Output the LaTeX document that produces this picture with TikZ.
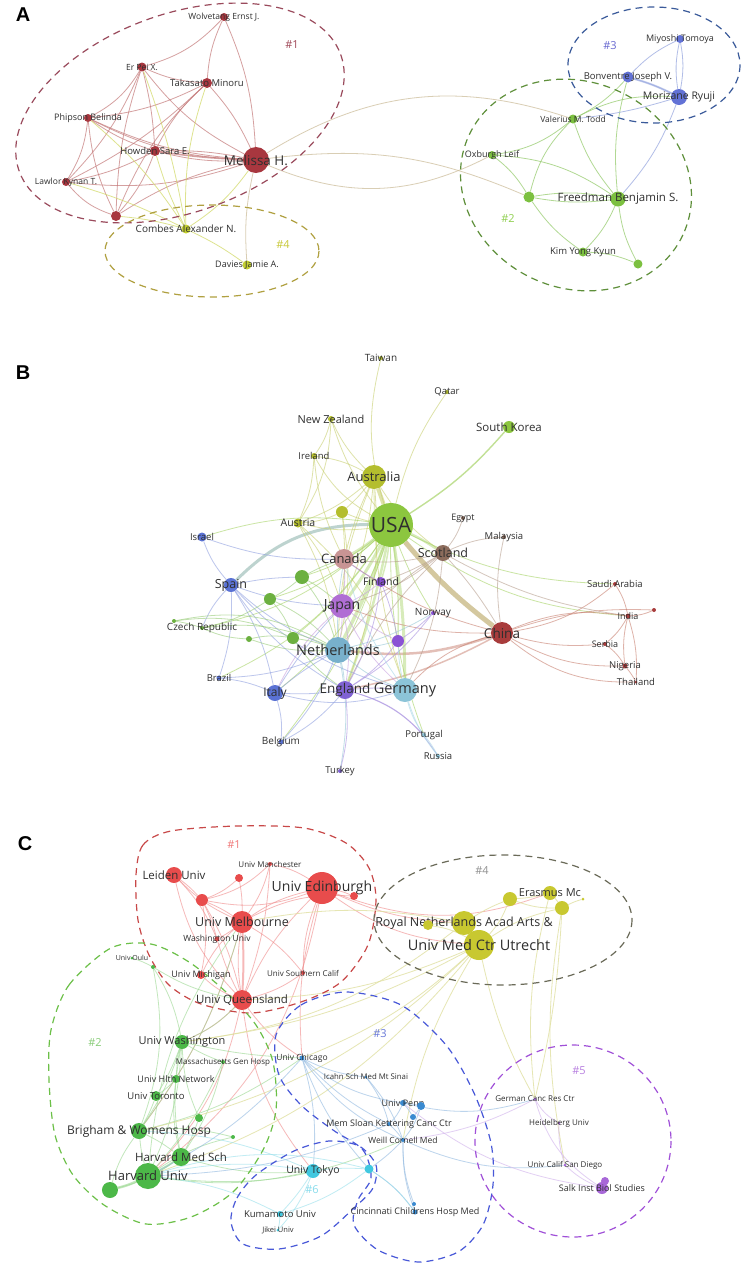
\documentclass[tikz,border=0pt]{standalone}
\usepackage{fontspec}
\setmainfont{Open Sans}
\newfontfamily\panelfont{Liberation Sans}
\pgfdeclarelayer{background}
\pgfsetlayers{background,main}

% node colours
\definecolor{txt}{HTML}{2F2F2F}
\definecolor{aRed}{HTML}{A8373F}
\definecolor{aGrn}{HTML}{7CC040}
\definecolor{aBlu}{HTML}{6272D6}
\definecolor{aYel}{HTML}{C4D030}
\definecolor{bUSA}{HTML}{8CC63F}
\definecolor{bAus}{HTML}{B4BE2E}
\definecolor{bCan}{HTML}{C89494}
\definecolor{bSco}{HTML}{8C6C5C}
\definecolor{bChi}{HTML}{A83C3C}
\definecolor{bJap}{HTML}{B06ED4}
\definecolor{bNet}{HTML}{78B0CC}
\definecolor{bEng}{HTML}{8062D4}
\definecolor{bGer}{HTML}{8CC4D8}
\definecolor{bSpa}{HTML}{5A72D4}
\definecolor{bFin}{HTML}{8A52D4}
\definecolor{bGrn}{HTML}{6CB040}
\definecolor{cRed}{HTML}{E84C4C}
\definecolor{cGrn}{HTML}{4CB848}
\definecolor{cYel}{HTML}{C8C830}
\definecolor{cBlu}{HTML}{3A8AD0}
\definecolor{cCya}{HTML}{40C8E0}
\definecolor{cPur}{HTML}{A868D8}
% link colours
\definecolor{eAR}{HTML}{C47878}
\definecolor{eAG}{HTML}{98CC70}
\definecolor{eAB}{HTML}{98A8E0}
\definecolor{eAY}{HTML}{D0D860}
\definecolor{eAT}{HTML}{CDBE9C}
\definecolor{eUSA}{HTML}{A8D468}
\definecolor{eAus}{HTML}{C8D070}
\definecolor{eSco}{HTML}{B8A090}
\definecolor{eChi}{HTML}{C88070}
\definecolor{eSpa}{HTML}{90A0E0}
\definecolor{eJap}{HTML}{C8A0E0}
\definecolor{eNet}{HTML}{98C8D8}
\definecolor{eEng}{HTML}{A890E0}
\definecolor{eGer}{HTML}{A8D8E8}
\definecolor{eGrn}{HTML}{98CC78}
\definecolor{eUC}{HTML}{B8A460}
\definecolor{eTeal}{HTML}{88B0A8}
\definecolor{eRed}{HTML}{F08A8A}
\definecolor{eCG}{HTML}{9AD890}
\definecolor{eYel}{HTML}{E0E0A0}
\definecolor{eBlu}{HTML}{90B8E0}
\definecolor{eCya}{HTML}{98E0EC}
\definecolor{ePur}{HTML}{D0B0EC}
% hull and tag colours
\definecolor{hA1}{HTML}{9A4A5C}
\definecolor{hA2}{HTML}{5E8F3A}
\definecolor{hA3}{HTML}{3A5A9A}
\definecolor{hA4}{HTML}{B0A040}
\definecolor{hC1}{HTML}{C84848}
\definecolor{hC2}{HTML}{6CC048}
\definecolor{hC3}{HTML}{4858D8}
\definecolor{hC4}{HTML}{6A6A58}
\definecolor{hC5}{HTML}{A050D8}
\definecolor{tA1}{HTML}{A04858}
\definecolor{tA2}{HTML}{90D050}
\definecolor{tA3}{HTML}{6868D0}
\definecolor{tA4}{HTML}{C8C838}
\definecolor{tC1}{HTML}{F07878}
\definecolor{tC2}{HTML}{88CC78}
\definecolor{tC3}{HTML}{6878D8}
\definecolor{tC4}{HTML}{909090}
\definecolor{tC5}{HTML}{B880E0}
\definecolor{tC6}{HTML}{88DCEC}

\begin{document}
\begin{tikzpicture}[x=1pt, y=-1pt,
	vdot/.style={circle, inner sep=0pt, minimum size=#1},
	lbl/.style={inner sep=0pt, text=txt, font=\fontsize{#1}{#1}\selectfont},
	tag/.style={inner sep=0pt, text=#1, font=\fontsize{11}{11}\selectfont},
	hull/.style={draw=#1, dash pattern=on 7pt off 5pt, line width=1.2pt},
	lnk/.style={draw=#1, line width=0.8pt, opacity=0.6},
	panel/.style={inner sep=0pt, font=\panelfont\bfseries\fontsize{20}{20}\selectfont}]

	\begin{pgfonlayer}{background}
		\path[fill=white, use as bounding box] (0,0) rectangle (731,1272);
	\end{pgfonlayer}

	% ---------------- A ----------------
	\node[panel] (pA) at (12,15) {A};

	\draw[hull=hA1, rotate around={20:(169,113)}] (169,113) ellipse [x radius=171, y radius=99];
	\draw[hull=hA4] (201,251) ellipse [x radius=107, y radius=46];
	\draw[hull=hA2, rotate around={-25:(565,185)}] (565,185) ellipse [x radius=118, y radius=103];
	\draw[hull=hA3] (643,65) ellipse [x radius=86, y radius=58];

	\node[tag=tA1] (tagA1) at (281,45) {\#1};
	\node[tag=tA2] (tagA2) at (497,219) {\#2};
	\node[tag=tA3] (tagA3) at (599,46) {\#3};
	\node[tag=tA4] (tagA4) at (272,245) {\#4};

	\foreach \id/\x/\y/\d/\fs/\txt in {
		wolv/213/17/8/8.5/Wolvetang Ernst J.,
		erpei/131/67/9/8.5/Er Pei X.,
		taka/196/83/10/9.5/Takasato Minoru,
		phip/77/118/8/9/Phipson Belinda,
		howd/144/151/10/9.5/Howden Sara E.,
		meli/245/160/26/13.5/Melissa H.,
		lawl/55/182/8/8.5/Lawlor Kynan T.}
	{
		\node[vdot=\d, fill=aRed] (\id) at (\x,\y) {};
		\node[lbl=\fs] (\id-t) at (\id) {\txt};
	}
	\node[vdot=10, fill=aRed] (aRedx) at (105,216) {};

	\foreach \id/\x/\y/\d/\fs/\txt in {
		comb/175/229/9/10/Combes Alexander N.,
		davi/236/265/9/9/Davies Jamie A.}
	{
		\node[vdot=\d, fill=aYel] (\id) at (\x,\y) {};
		\node[lbl=\fs] (\id-t) at (\id) {\txt};
	}

	\foreach \id/\x/\y/\d/\fs/\txt in {
		valer/562/119/9/8.5/Valerius M. Todd,
		oxb/481/155/8/9/Oxburgh Leif,
		freed/607/199/15/11.5/Freedman Benjamin S.,
		kim/572/252/9/9.5/Kim Yong Kyun}
	{
		\node[vdot=\d, fill=aGrn] (\id) at (\x,\y) {};
		\node[lbl=\fs] (\id-t) at (\id) {\txt};
	}
	\node[vdot=11, fill=aGrn] (aGrnx) at (518,197) {};
	\node[vdot=9, fill=aGrn] (aGrny) at (627,264) {};

	\foreach \id/\x/\y/\d/\fs/\txt in {
		miy/669/39/8/9/Miyoshi Tomoya,
		bonv/617/77/11/9.5/Bonventre Joseph V.,
		moriz/668/97/16/10.5/Morizane Ryuji}
	{
		\node[vdot=\d, fill=aBlu] (\id) at (\x,\y) {};
		\node[lbl=\fs] (\id-t) at (\id) {\txt};
	}

	\begin{pgfonlayer}{background}
		\foreach \a/\b/\k in {meli/wolv/-10, meli/erpei/12, meli/taka/-8, meli/phip/10,
			meli/howd/8, meli/howd/-6, meli/lawl/12, meli/aRedx/-10, taka/wolv/10,
			erpei/wolv/-15, erpei/phip/15, erpei/howd/5, erpei/lawl/10, erpei/aRedx/-8,
			erpei/taka/-10, taka/phip/10, taka/howd/-10, taka/lawl/8, taka/aRedx/-12,
			phip/howd/-8, phip/lawl/12, phip/aRedx/-10, howd/lawl/8, howd/aRedx/10,
			lawl/aRedx/-15, phip/meli/-12}
			\draw[lnk=eAR, opacity=0.7] (\a) to[bend left=\k] (\b);
		\draw[lnk=eAR, line width=1.6pt, opacity=0.7] (meli) to[bend left=3] (howd);
		\foreach \a/\b/\k in {comb/lawl/-5, comb/phip/-8, comb/howd/5, comb/taka/10,
			comb/erpei/-5, comb/meli/-10, comb/davi/5, comb/aRedx/-5}
			\draw[lnk=eAY, opacity=0.7] (\a) to[bend left=\k] (\b);
		\foreach \a/\b/\k in {davi/meli/8, meli/valer/25, meli/aGrnx/15, meli/oxb/-25}
			\draw[lnk=eAT, opacity=0.75] (\a) to[bend left=\k] (\b);
		\foreach \a/\b/\k in {valer/oxb/15, valer/aGrnx/-15, valer/freed/-10, oxb/aGrnx/10,
			oxb/freed/15, aGrnx/freed/10, aGrnx/freed/-8, aGrnx/kim/-10, freed/kim/10,
			freed/aGrny/-10, kim/aGrny/10, valer/bonv/-10, freed/bonv/10, valer/moriz/15}
			\draw[lnk=eAG, opacity=0.75] (\a) to[bend left=\k] (\b);
		\foreach \a/\b/\k in {miy/bonv/-10, miy/moriz/10, bonv/moriz/5, miy/moriz/-10,
			freed/moriz/-10, valer/moriz/-5}
			\draw[lnk=eAB, opacity=0.75] (\a) to[bend left=\k] (\b);
		\draw[lnk=eAB, line width=2pt] (bonv) to[bend left=5] (moriz);
	\end{pgfonlayer}

	% ---------------- B ----------------
	\node[panel] (pB) at (12,373) {B};

	\foreach \id/\x/\y/\d/\fs/\c/\txt in {
		usa/380/525/44/21/bUSA/USA,
		aus/363/477/24/13/bAus/Australia,
		taiw/370/358/4/10/bAus/Taiwan,
		qatar/436/392/4/9.5/bAus/Qatar,
		nz/320/419/6/11/bAus/New Zealand,
		skor/498/427/12/11.5/bUSA/South Korea,
		irel/303/456/6/9.5/bAus/Ireland,
		austria/287/523/9/10.5/bAus/Austria,
		egypt/452/518/4/9/bSco/Egypt,
		malay/493/537/4/9.5/bSco/Malaysia,
		israel/191/537/9/9.5/bSpa/Israel,
		scot/432/553/16/12.5/bSco/Scotland,
		canada/333/559/20/13/bCan/Canada,
		spain/220/585/14/12.5/bSpa/Spain,
		finl/370/582/10/10.5/bFin/Finland,
		japan/331/606/24/14/bJap/Japan,
		norway/422/613/4/10/bFin/Norway,
		czech/191/628/4/10/bGrn/Czech Republic,
		neth/327/650/26/14.5/bNet/Netherlands,
		china/491/633/22/13.5/bChi/China,
		saudi/604/584/4/9.5/bChi/Saudi Arabia,
		india/617/616/5/9/bChi/India,
		serbia/594/644/4/9/bChi/Serbia,
		nigeria/614/666/5/9.5/bChi/Nigeria,
		thai/625/682/3/9.5/bChi/Thailand,
		brazil/208/678/5/9.5/bSpa/Brazil,
		italy/264/693/16/12/bSpa/Italy,
		engl/334/690/18/13.5/bEng/England,
		germ/394/690/24/14.5/bGer/Germany,
		belg/270/742/5/10/bSpa/Belgium,
		portu/413/735/4/9.5/bGer/Portugal,
		russia/427/756/4/9.5/bGer/Russia,
		turkey/329/771/4/9.5/bEng/Turkey}
	{
		\node[vdot=\d, fill=\c] (\id) at (\x,\y) {};
		\node[lbl=\fs] (\id-t) at (\id) {\txt};
	}
	\foreach \id/\x/\y/\d/\c in {bAusx/331/512/12/bAus, bGrnA/291/577/14/bGrn,
		bGrnB/259/599/12/bGrn, bGrnC/163/621/4/bGrn, bGrnD/238/639/6/bGrn,
		bGrnE/282/638/12/bGrn, bFinx/387/641/12/bFin, bChix/643/610/4/bChi}
		\node[vdot=\d, fill=\c] (\id) at (\x,\y) {};

	\begin{pgfonlayer}{background}
		\draw[lnk=eUC, line width=5pt, opacity=0.6] (usa) to[bend left=-6] (china);
		\draw[lnk=eAus, line width=4pt, opacity=0.6] (usa) to (aus);
		\draw[lnk=eTeal, line width=3pt, opacity=0.55] (spain) to[bend left=22] (usa);
		\draw[lnk=eChi, line width=2.5pt, opacity=0.5] (china) to[bend left=12] (neth);
		\draw[lnk=eChi, line width=1.5pt, opacity=0.5] (china) to[bend left=8] (engl);
		\foreach \b/\w in {canada/3, japan/3, neth/3.5, germ/3, engl/2.5, scot/2.5, finl/1.5, bFinx/1.5}
			\draw[lnk=eUSA, line width=\w pt, opacity=0.45] (usa) to[bend left=4] (\b);
		\draw[lnk=eUSA, line width=1.4pt, opacity=0.7] (usa) to[bend left=-8] (skor);
		\foreach \a/\b/\k in {aus/nz/10, aus/irel/-10, aus/austria/10, aus/bAusx/5, aus/canada/-5,
			aus/japan/8, aus/neth/-10, aus/scot/-10, aus/engl/12, aus/germ/-8, nz/irel/10,
			nz/usa/-10, nz/austria/15, irel/usa/-15, irel/austria/10, irel/canada/-10,
			austria/usa/-10, austria/bAusx/-10, austria/neth/10, austria/japan/10,
			austria/germ/15, bAusx/usa/-5, bAusx/neth/10, bAusx/japan/5, taiw/usa/-15,
			qatar/usa/-10}
			\draw[lnk=eAus] (\a) to[bend left=\k] (\b);
		\foreach \a/\b/\k in {usa/norway/-5, usa/italy/15, usa/bGrnA/10, usa/bGrnB/12,
			usa/bGrnE/8, usa/czech/15, usa/brazil/15, usa/belg/10, usa/portu/-10,
			usa/saudi/-12, usa/india/-15, usa/israel/-12}
			\draw[lnk=eUSA] (\a) to[bend left=\k] (\b);
		\foreach \a/\b/\k in {scot/egypt/-10, scot/malay/10, scot/china/5, scot/neth/-10,
			scot/engl/-10, scot/germ/10, scot/japan/10, scot/canada/10, scot/finl/5,
			scot/india/-10, malay/china/-10}
			\draw[lnk=eSco] (\a) to[bend left=\k] (\b);
		\foreach \a/\b/\k in {china/saudi/-15, china/india/15, china/bChix/10, china/serbia/-10,
			china/nigeria/-15, china/thai/-20, india/saudi/-10, india/serbia/10,
			india/nigeria/-10, india/thai/10, india/bChix/-10, serbia/nigeria/10,
			nigeria/thai/5, china/germ/-15, china/japan/10, china/canada/10}
			\draw[lnk=eChi] (\a) to[bend left=\k] (\b);
		\foreach \a/\b/\k in {spain/israel/10, spain/italy/10, spain/neth/-10, spain/japan/-8,
			spain/engl/-12, spain/germ/-15, spain/brazil/10, spain/czech/-10, spain/bGrnA/5,
			italy/neth/5, italy/engl/-5, italy/germ/-15, italy/belg/10, italy/brazil/-8,
			italy/japan/5, brazil/neth/-10, belg/engl/-10, belg/neth/-10, israel/canada/-10}
			\draw[lnk=eSpa] (\a) to[bend left=\k] (\b);
		\foreach \a/\b/\k in {bGrnA/japan/5, bGrnA/neth/10, bGrnA/bGrnB/5, bGrnB/bGrnE/10,
			bGrnB/czech/10, bGrnB/neth/10, bGrnC/czech/5, bGrnC/bGrnE/15, bGrnD/bGrnE/10,
			bGrnD/neth/-10, bGrnD/czech/10, bGrnE/neth/5, bGrnE/engl/-10, bGrnC/neth/20,
			czech/neth/15, bGrnA/canada/5}
			\draw[lnk=eGrn] (\a) to[bend left=\k] (\b);
		\foreach \a/\b/\k in {japan/neth/5, japan/engl/10, japan/germ/-10, japan/finl/-5,
			japan/canada/-5, japan/bFinx/-5, japan/italy/-10}
			\draw[lnk=eJap] (\a) to[bend left=\k] (\b);
		\foreach \a/\b/\k in {neth/engl/5, neth/germ/-10, neth/canada/5, neth/turkey/10,
			neth/bFinx/-5, neth/norway/-8}
			\draw[lnk=eNet] (\a) to[bend left=\k] (\b);
		\foreach \a/\b/\k in {engl/germ/5, engl/turkey/10, engl/bFinx/-10, engl/finl/-10,
			engl/norway/-10, engl/portu/15, engl/russia/20, finl/bFinx/5, norway/bFinx/5,
			finl/canada/5}
			\draw[lnk=eEng] (\a) to[bend left=\k] (\b);
		\foreach \a/\b/\k in {germ/portu/-10, germ/russia/-10, germ/canada/10, germ/bFinx/5,
			portu/russia/5}
			\draw[lnk=eGer] (\a) to[bend left=\k] (\b);
	\end{pgfonlayer}

	% ---------------- C ----------------
	\node[panel] (pC) at (14,844) {C};

	\draw[hull=hC1] plot[smooth cycle] coordinates {(125,875) (132,845) (160,831) (227,826)
		(293,828) (335,843) (358,868) (365,900) (357,945) (330,982) (290,1002) (240,1013)
		(190,1004) (158,985) (138,955) (127,920)};
	\draw[hull=hC2] plot[smooth cycle] coordinates {(40,1030) (58,985) (100,948) (140,944)
		(178,962) (215,992) (245,1025) (262,1062) (265,1110) (252,1150) (222,1192)
		(180,1217) (135,1224) (93,1205) (62,1175) (44,1135) (38,1080)};
	\draw[hull=hC3] plot[smooth cycle] coordinates {(265,1035) (290,1005) (335,992)
		(390,1005) (435,1045) (463,1093) (480,1143) (482,1185) (472,1225) (447,1252)
		(407,1262) (367,1250) (343,1225) (347,1200) (360,1178) (352,1150) (322,1130)
		(290,1105) (268,1075)};
	\draw[hull=hC3] plot[smooth cycle] coordinates {(220,1222) (226,1198) (245,1175)
		(283,1151) (318,1141) (348,1146) (365,1165) (362,1188) (343,1208) (310,1236)
		(268,1249) (232,1244)};
	\draw[hull=hC4] (492,920) ellipse [x radius=129, y radius=65];
	\draw[hull=hC5] (562,1141) ellipse [x radius=98, y radius=96];

	\node[tag=tC1] (tagC1) at (223,845) {\#1};
	\node[tag=tC2] (tagC2) at (84,1043) {\#2};
	\node[tag=tC3] (tagC3) at (369,1034) {\#3};
	\node[tag=tC4] (tagC4) at (471,871) {\#4};
	\node[tag=tC5] (tagC5) at (568,1071) {\#5};
	\node[tag=tC6] (tagC6) at (301,1190) {\#6};

	\foreach \id/\x/\y/\d/\fs/\c/\txt in {
		leiden/163/875/16/11.5/cRed/Leiden Univ,
		manch/259/864/4/8/cRed/Univ Manchester,
		edinb/311/888/32/14/cRed/Univ Edinburgh,
		melb/231/922/22/12.5/cRed/Univ Melbourne,
		wash/206/939/5/8.5/cRed/Washington Univ,
		mich/190/975/8/9/cRed/Univ Michigan,
		socal/292/973/4/8/cRed/Univ Southern Calif,
		queens/231/1000/20/11.5/cRed/Univ Queensland,
		oulu/121/958/3/7/cGrn/Univ Oulu,
		uwash/171/1042/14/11/cGrn/Univ Washington,
		mgh/212/1062/4/8/cGrn/Massachusetts Gen Hosp,
		uhn/165/1079/8/9/cGrn/Univ Hlth Network,
		toronto/145/1096/10/9.5/cGrn/Univ Toronto,
		brigham/128/1131/16/12/cGrn/Brigham \& Womens Hosp,
		hms/170/1157/18/11.5/cGrn/Harvard Med Sch,
		harv/137/1176/26/13/cGrn/Harvard Univ,
		erasmus/539/893/14/11/cYel/Erasmus Mc,
		royal/453/923/24/12.5/cYel/Royal Netherlands Acad Arts \&,
		utrecht/468/945/30/14.5/cYel/Univ Med Ctr Utrecht,
		chicago/291/1058/5/8.5/cBlu/Univ Chicago,
		icahn/355/1077/3/7.8/cBlu/Icahn Sch Med Mt Sinai,
		penn/392/1103/6/9/cBlu/Univ Penn,
		msk/378/1124/4/9/cBlu/Mem Sloan Kettering Canc Ctr,
		weill/392/1140/4/8.5/cBlu/Weill Cornell Med,
		cinci/404/1212/5/9/cBlu/Cincinnati Childrens Hosp Med,
		tokyo/302/1171/14/10.5/cCya/Univ Tokyo,
		kuma/269/1214/6/9.5/cCya/Kumamoto Univ,
		jikei/267/1230/3/7.5/cCya/Jikei Univ,
		german/524/1099/3/8/cPur/German Canc Res Ctr,
		heidel/548/1123/3/8/cPur/Heidelberg Univ,
		ucsd/554/1165/3/8/cPur/Univ Calif San Diego,
		salk/591/1188/12/9/cPur/Salk Inst Biol Studies}
	{
		\node[vdot=\d, fill=\c] (\id) at (\x,\y) {};
		\node[lbl=\fs] (\id-t) at (\id) {\txt};
	}
	\foreach \id/\x/\y/\d/\c in {cRedA/228/878/8/cRed, cRedB/343/896/8/cRed,
		cRedC/191/900/12/cRed, cGrnA/142/967/4/cGrn, cGrnB/188/1118/8/cGrn,
		cGrnC/222/1137/4/cGrn, cGrnD/99/1190/16/cGrn, cYelA/499/899/14/cYel,
		cYelB/551/908/14/cYel, cYelC/572/899/3/cYel, cYelD/417/925/10/cYel,
		cBluA/410/1106/8/cBlu, cBluB/402/1117/6/cBlu, cBluC/403/1204/4/cBlu,
		cCyaA/358/1169/9/cCya, cPurA/594/1181/8/cPur}
		\node[vdot=\d, fill=\c] (\id) at (\x,\y) {};

	\begin{pgfonlayer}{background}
		\draw[lnk=eRed, line width=2pt] (melb) to[bend left=3] (queens);
		\draw[lnk=eCG, line width=2pt] (harv) to[bend left=-3] (hms);
		\draw[lnk=eCG, line width=2.5pt] (harv) to[bend left=5] (cGrnD);
		\foreach \a/\b/\k in {leiden/cRedC/5, leiden/melb/-10, leiden/queens/-15, leiden/wash/10,
			cRedC/melb/5, cRedC/cRedA/-10, cRedC/manch/-15, cRedC/queens/8, cRedC/wash/5,
			cRedC/mich/10, cRedA/melb/5, manch/melb/10, manch/queens/8, melb/queens/-8,
			melb/wash/5, wash/queens/-5, melb/edinb/10, edinb/queens/-10, edinb/cRedB/5,
			edinb/socal/-10, socal/queens/10, mich/queens/-10, mich/melb/10, cRedB/melb/-15,
			edinb/manch/-10, socal/melb/-10, cRedC/edinb/-15, edinb/royal/-10,
			edinb/utrecht/-15, edinb/erasmus/-20, queens/harv/15, queens/uwash/10,
			queens/chicago/-10, queens/tokyo/-15, edinb/harv/20, edinb/chicago/-10,
			melb/brigham/10}
			\draw[lnk=eRed] (\a) to[bend left=\k] (\b);
		\foreach \a/\b/\k in {uwash/harv/10, uwash/brigham/8, uwash/hms/-10, uwash/toronto/5,
			uwash/uhn/-5, uwash/mgh/-5, uwash/cGrnB/-10, harv/brigham/5, hms/brigham/-5,
			hms/cGrnD/10, toronto/brigham/5, uhn/toronto/5, uhn/hms/-10, cGrnB/hms/5,
			cGrnC/harv/-10, cGrnC/brigham/-10, mgh/hms/10, mgh/harv/8, oulu/cGrnA/5,
			cGrnA/queens/-10, cGrnA/uwash/10, cGrnA/brigham/15, uwash/queens/-10,
			harv/melb/15, brigham/melb/-10, brigham/cGrnD/-10, hms/tokyo/-10, harv/tokyo/-10,
			uwash/chicago/-5, brigham/chicago/-10, harv/weill/-15}
			\draw[lnk=eCG] (\a) to[bend left=\k] (\b);
		\foreach \a/\b/\k in {royal/utrecht/5, cYelD/royal/5, cYelD/utrecht/10, cYelA/royal/-5,
			cYelA/erasmus/-5, erasmus/cYelB/5, cYelB/cYelC/5, cYelA/utrecht/10,
			cYelB/utrecht/-10, cYelA/cYelB/-10, utrecht/harv/15, utrecht/uwash/10,
			royal/uwash/15, utrecht/chicago/10, utrecht/weill/-10, royal/melb/-10,
			utrecht/brigham/15, cYelB/ucsd/-10, utrecht/queens/10, utrecht/german/-8,
			cYelB/german/5, erasmus/german/-10}
			\draw[lnk=eYel, opacity=0.8] (\a) to[bend left=\k] (\b);
		\foreach \a/\b/\k in {chicago/icahn/-10, chicago/penn/-15, chicago/msk/-10,
			chicago/weill/-15, chicago/harv/10, chicago/tokyo/10, chicago/cCyaA/-10,
			penn/cBluA/5, penn/cBluB/5, cBluA/cBluB/5, penn/msk/10, msk/weill/5,
			weill/cCyaA/5, cinci/weill/10, cinci/cCyaA/-10, cBluC/weill/10, penn/german/-15,
			weill/ucsd/-15, msk/harv/10, icahn/msk/10, icahn/weill/10, weill/cBluA/-10}
			\draw[lnk=eBlu] (\a) to[bend left=\k] (\b);
		\foreach \a/\b/\k in {tokyo/cCyaA/5, tokyo/kuma/5, kuma/jikei/5, cCyaA/kuma/10,
			tokyo/harv/-10, cCyaA/harv/-15, tokyo/brigham/-10, kuma/harv/-10,
			jikei/tokyo/-10, cCyaA/cinci/10}
			\draw[lnk=eCya] (\a) to[bend left=\k] (\b);
		\foreach \a/\b/\k in {german/heidel/-15, heidel/ucsd/-10, ucsd/salk/-10, german/salk/-20,
			cPurA/salk/5, salk/penn/15, german/weill/10}
			\draw[lnk=ePur] (\a) to[bend left=\k] (\b);
	\end{pgfonlayer}
\end{tikzpicture}
\end{document}
